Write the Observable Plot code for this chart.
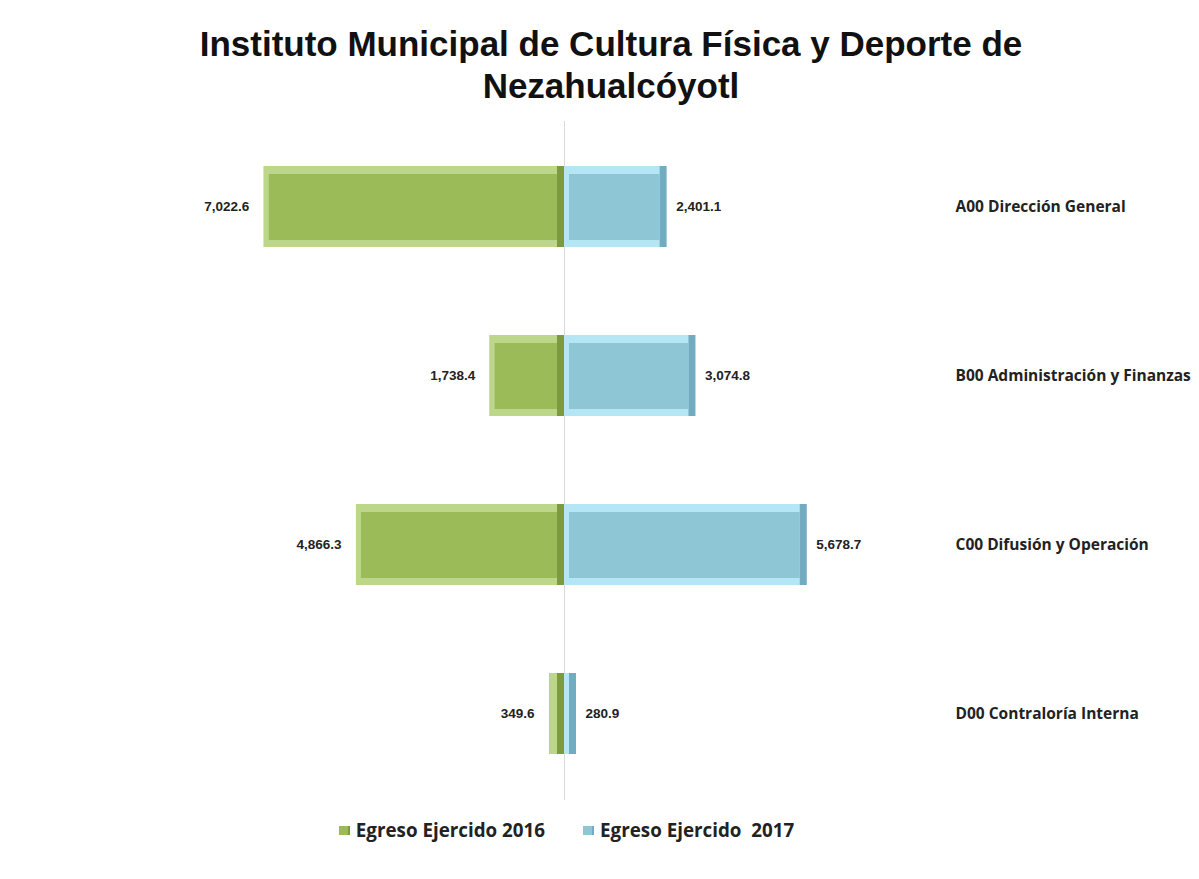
<!DOCTYPE html>
<html>
<head>
<meta charset="utf-8">
<script src="https://cdn.jsdelivr.net/npm/d3@7"></script>
<script src="https://cdn.jsdelivr.net/npm/@observablehq/plot@0.6"></script>
<style>
  html, body { margin: 0; padding: 0; background: #fff; }
  #wrap { width: 1199px; height: 879px; position: relative; overflow: hidden; }
  #title { height: 110px; box-sizing: border-box; padding-top: 23px; padding-left: 23px; text-align: center;
    font-family: "Liberation Sans", Arial, sans-serif; font-weight: bold; font-size: 35px; line-height: 42px; color: #111; }
  #legend { height: 40px; display: flex; justify-content: center; align-items: center; gap: 38px; padding-right: 66px;
    font-family: "Open Sans", "Noto Sans", sans-serif; font-weight: bold; font-size: 18.8px; color: #222; white-space: pre; }
  .item { display: flex; align-items: center; gap: 6px; }
  .sw { width: 9px; height: 9px; display: inline-block; }
</style>
</head>
<body>
<div id="wrap">
  <div id="title">Instituto Municipal de Cultura Física y Deporte de<br>Nezahualcóyotl</div>
  <div id="chart"></div>
  <div id="legend"></div>
</div>
<script>
const categories = ["A00 Dirección General", "B00 Administración y Finanzas", "C00 Difusión y Operación", "D00 Contraloría Interna"];
const egreso2016 = [7022.6, 1738.4, 4866.3, 349.6];
const egreso2017 = [2401.1, 3074.8, 5678.7, 280.9];
const seriesNames = ["Egreso Ejercido 2016", "Egreso Ejercido  2017"];

const colors = {
  "2016": {main: "#9bbb59", light: "#bcd68a", dark: "#7c9a40"},
  "2017": {main: "#8ec6d6", light: "#b4e6f6", dark: "#72acc0"}
};

const rows = [];
categories.forEach((c, i) => {
  rows.push({cat: c, series: "2016", value: egreso2016[i], x: -egreso2016[i]});
  rows.push({cat: c, series: "2017", value: egreso2017[i], x: egreso2017[i]});
});
const fmt = d3.format(",.1f");
const fillOf = key => d => colors[d.series][key];
const numFont = "'Liberation Sans', Arial, sans-serif";

const chart = Plot.plot({
  width: 1199,
  height: 700,
  marginTop: 11,
  marginBottom: 10,
  marginLeft: 222,
  marginRight: 293,
  x: {domain: [-8000, 8000], axis: null},
  y: {domain: categories, paddingInner: 0.52, paddingOuter: 0.26, label: null},
  style: {background: "transparent"},
  marks: [
    Plot.ruleX([0], {stroke: "#d9d9d9", strokeWidth: 1}),
    Plot.barX(rows, {x: "x", y: "cat", fill: fillOf("dark")}),
    Plot.barX(rows, {x: "x", y: "cat", fill: fillOf("light"), insetRight: 7}),
    Plot.barX(rows.filter(d => d.value > 400), {x: "x", y: "cat", fill: fillOf("main"), insetTop: 8, insetBottom: 7, insetLeft: 5, insetRight: 7}),
    Plot.text(rows.filter(d => d.series === "2016"), {x: "x", y: "cat", text: d => fmt(d.value), textAnchor: "end", dx: -15,
      fontSize: 13.5, fontWeight: "bold", fill: "#222", fontFamily: numFont}),
    Plot.text(rows.filter(d => d.series === "2017"), {x: "x", y: "cat", text: d => fmt(d.value), textAnchor: "start", dx: 9,
      fontSize: 13.5, fontWeight: "bold", fill: "#222", fontFamily: numFont}),
    Plot.axisY({anchor: "right", tickSize: 0, tickPadding: 49, fontSize: 15.5, fontWeight: "bold", fill: "#222",
      fontFamily: "'Open Sans', 'Noto Sans', sans-serif", label: null})
  ]
});
document.getElementById("chart").appendChild(chart);

const legend = document.getElementById("legend");
["2016", "2017"].forEach((k, i) => {
  const item = document.createElement("div");
  item.className = "item";
  const sw = document.createElement("span");
  sw.className = "sw";
  sw.style.background = colors[k].main;
  sw.style.borderRight = "2px solid " + colors[k].dark;
  const t = document.createElement("span");
  t.textContent = seriesNames[i];
  item.appendChild(sw); item.appendChild(t);
  legend.appendChild(item);
});
</script>
</body>
</html>
